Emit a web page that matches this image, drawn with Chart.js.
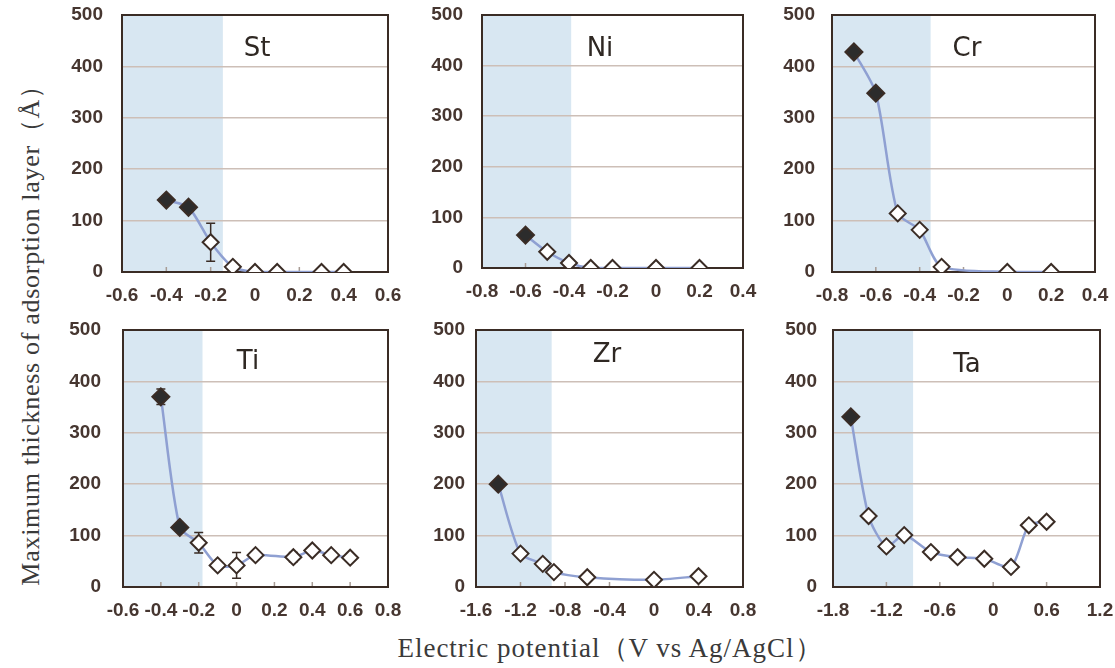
<!DOCTYPE html>
<html>
<head>
<meta charset="utf-8">
<title>Maximum thickness of adsorption layer</title>
<script src="https://cdn.jsdelivr.net/npm/chart.js@4.4.1/dist/chart.umd.min.js"></script>
<style>
  html, body { margin: 0; padding: 0; background: #fff; }
  body { position: relative; width: 1115px; height: 668px; overflow: hidden; }
  canvas { position: absolute; }
  .tag { position: absolute; transform: translate(-50%, -50%); font: 26px "DejaVu Sans", sans-serif; color: #2f2823; white-space: nowrap; }
  .axis-title { position: absolute; font-family: "Liberation Serif", "Times New Roman", serif; color: #3a3a3a; white-space: nowrap; }
  #ytitle { left: 30px; top: 329px; font-size: 26px; letter-spacing: 0.7px; transform: translate(-50%, -50%) rotate(-90deg); }
  #xtitle { left: 610px; top: 648px; font-size: 27px; letter-spacing: 1px; transform: translate(-50%, -50%); }
</style>
</head>
<body>
<div id="ytitle" class="axis-title">Maximum thickness of adsorption layer（Å）</div>
<div id="xtitle" class="axis-title">Electric potential（V vs Ag/AgCl）</div>
<script>
// ── DATA ──────────────────────────────────────────────────────
const panelNames = ['St', 'Ni', 'Cr', 'Ti', 'Zr', 'Ta'];

const stX = [-0.4, -0.3, -0.2, -0.1, 0, 0.1, 0.3, 0.4];
const stY = [140, 126, 58, 10, 0, 0, 0, 0];
const stErr = [0, 0, 37, 0, 0, 0, 0, 0];

const niX = [-0.6, -0.5, -0.4, -0.3, -0.2, 0, 0.2];
const niY = [65, 32, 10, 0, 0, 0, 0];

const crX = [-0.7, -0.6, -0.5, -0.4, -0.3, 0, 0.2];
const crY = [428, 348, 114, 82, 10, 0, 0];

const tiX = [-0.4, -0.3, -0.2, -0.1, 0, 0.1, 0.3, 0.4, 0.5, 0.6];
const tiY = [370, 116, 86, 42, 42, 62, 58, 71, 62, 57];
const tiErr = [15, 6, 20, 0, 25, 0, 9, 0, 0, 0];

const zrX = [-1.4, -1.2, -1.0, -0.9, -0.6, 0, 0.4];
const zrY = [200, 65, 45, 29, 19, 14, 21];

const taX = [-1.6, -1.4, -1.2, -1.0, -0.7, -0.4, -0.1, 0.2, 0.4, 0.6];
const taY = [331, 138, 79, 101, 68, 58, 55, 39, 120, 127];

const seriesX = [stX, niX, crX, tiX, zrX, taX];
const seriesY = [stY, niY, crY, tiY, zrY, taY];
const seriesErr = [stErr, null, null, tiErr, null, null];

// first n points of each series are the filled (dark) diamonds
const filledCounts = [2, 1, 2, 2, 1, 1];
// blue band runs from the left edge to this potential
const shadeEnds = [-0.145, -0.39, -0.35, -0.18, -0.92, -0.9];

const xMins = [-0.6, -0.8, -0.8, -0.6, -1.6, -1.8];
const xMaxs = [0.6, 0.4, 0.4, 0.8, 0.8, 1.2];
const xSteps = [0.2, 0.2, 0.2, 0.2, 0.4, 0.6];
const yMin = 0, yMax = 500, yStep = 100;

// ── LAYOUT (plot areas in page px) ───────────────────────────
const plotBoxes = [
  [122, 15, 388, 272],
  [482, 15, 743, 268],
  [832, 15, 1095, 272],
  [123, 330, 388, 587],
  [476, 330, 743, 587],
  [833, 330, 1100, 587],
];
const tagPos = [[257, 47], [600, 47], [967, 47], [248, 360], [607, 353], [967, 363]];
const yPads = [19, 19, 17, 22, 11, 16];

const AXIS_W = 62, AXIS_H = 36, PAD_T = 14, PAD_R = 16;

// ── COLOURS ───────────────────────────────────────────────────
const LINE = '#8fa0d2';
const INK = '#3a2c25';
const FILL = '#2c2c2c';
const GRID = '#cdbfb7';
const SHADE = '#d8e7f2';
const TICK = '#463630';
const TICKMARK = '#a89c95';
const NONE = 'rgba(0,0,0,0)';
const TICK_FONT = { family: '"Liberation Sans", Arial, sans-serif', size: 19, weight: '600' };

function fmtTick(v) {
  if (Math.abs(v) < 1e-9) return '0';
  return (Math.round(v * 10) / 10).toFixed(1);
}

// shading band, frame, inward tick marks and error bars
function makeDecor(i) {
  return {
    id: 'decor' + i,
    beforeDraw(chart) {
      const { ctx, chartArea: a, scales: { x } } = chart;
      ctx.save();
      ctx.fillStyle = '#fff';
      ctx.fillRect(0, 0, chart.width, chart.height);
      const xe = x.getPixelForValue(shadeEnds[i]);
      ctx.fillStyle = SHADE;
      ctx.fillRect(a.left, a.top, xe - a.left, a.bottom - a.top);
      ctx.restore();
    },
    beforeDatasetsDraw(chart) {
      const { ctx, chartArea: a, scales: { x, y } } = chart;
      ctx.save();
      ctx.strokeStyle = TICKMARK;
      ctx.lineWidth = 1.5;
      ctx.beginPath();
      x.ticks.forEach(tk => {
        const px = x.getPixelForValue(tk.value);
        ctx.moveTo(px, a.bottom);
        ctx.lineTo(px, a.bottom - 5);
      });
      ctx.stroke();

      ctx.strokeStyle = INK;
      ctx.lineWidth = 2;
      ctx.strokeRect(a.left, a.top, a.right - a.left, a.bottom - a.top);

      const err = seriesErr[i];
      if (err) {
        ctx.lineWidth = 1.5;
        seriesX[i].forEach((xv, k) => {
          const e = err[k];
          if (!e) return;
          const px = x.getPixelForValue(xv);
          const top = y.getPixelForValue(seriesY[i][k] + e);
          const bot = y.getPixelForValue(Math.max(0, seriesY[i][k] - e));
          ctx.beginPath();
          ctx.moveTo(px, top); ctx.lineTo(px, bot);
          ctx.moveTo(px - 4.5, top); ctx.lineTo(px + 4.5, top);
          ctx.moveTo(px - 4.5, bot); ctx.lineTo(px + 4.5, bot);
          ctx.stroke();
        });
      }
      ctx.restore();
    },
  };
}

// ── BUILD PANELS ──────────────────────────────────────────────
panelNames.forEach((name, i) => {
  const [l, t, r, b] = plotBoxes[i];
  const cv = document.createElement('canvas');
  cv.width = (r - l) + AXIS_W + PAD_R;
  cv.height = (b - t) + PAD_T + AXIS_H;
  cv.style.left = (l - AXIS_W) + 'px';
  cv.style.top = (t - PAD_T) + 'px';
  document.body.appendChild(cv);

  const tag = document.createElement('div');
  tag.className = 'tag';
  tag.textContent = name;
  tag.style.left = tagPos[i][0] + 'px';
  tag.style.top = tagPos[i][1] + 'px';
  document.body.appendChild(tag);

  const xs = seriesX[i], ys = seriesY[i], nf = filledCounts[i];

  new Chart(cv, {
    type: 'scatter',
    data: {
      datasets: [{
        data: xs.map((v, k) => ({ x: v, y: ys[k] })),
        showLine: true,
        borderColor: LINE,
        borderWidth: 2.5,
        tension: 0.25,
        pointStyle: 'rectRot',
        pointRadius: xs.map((_, k) => k < nf ? 8.5 : 8),
        pointBackgroundColor: xs.map((_, k) => k < nf ? FILL : '#ffffff'),
        pointBorderColor: INK,
        pointBorderWidth: 2,
      }],
    },
    options: {
      responsive: false,
      animation: false,
      devicePixelRatio: 1,
      layout: { padding: { top: PAD_T, right: PAD_R, left: 0, bottom: 0 } },
      plugins: { legend: { display: false }, tooltip: { enabled: false } },
      scales: {
        x: {
          type: 'linear',
          min: xMins[i], max: xMaxs[i],
          afterFit: s => { s.height = AXIS_H; },
          border: { display: false },
          // invisible tick marks stand in for label padding (ticks.padding would shrink the plot)
          grid: { drawOnChartArea: false, drawTicks: true, tickLength: 12, tickColor: NONE, color: NONE },
          ticks: {
            stepSize: xSteps[i],
            autoSkip: false, maxRotation: 0,
            padding: 0,
            color: TICK,
            font: TICK_FONT,
            callback: fmtTick,
          },
        },
        y: {
          min: yMin, max: yMax,
          afterFit: s => { s.width = AXIS_W; },
          border: { display: false },
          grid: {
            drawTicks: true,
            tickLength: yPads[i],
            tickColor: NONE,
            color: ctx => (ctx.tick.value > yMin && ctx.tick.value < yMax) ? GRID : NONE,
            lineWidth: 1.5,
          },
          ticks: {
            stepSize: yStep,
            padding: 0,
            color: TICK,
            font: TICK_FONT,
          },
        },
      },
    },
    plugins: [makeDecor(i)],
  });
});
</script>
</body>
</html>
